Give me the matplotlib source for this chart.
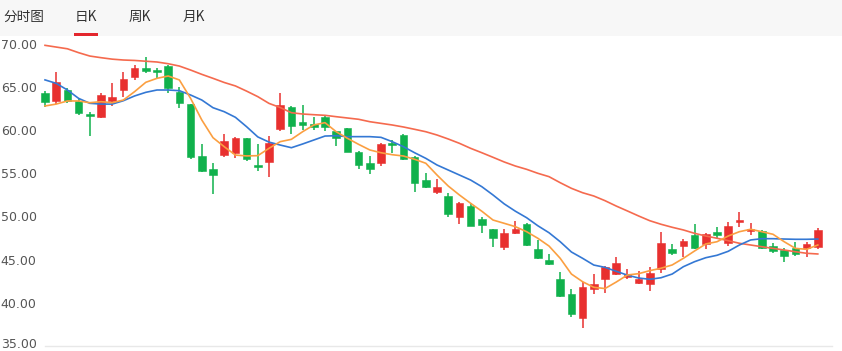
import matplotlib
matplotlib.use("Agg")
import matplotlib.pyplot as plt
from matplotlib.patches import Rectangle
import matplotlib.transforms as mtransforms

plt.rcParams['font.family'] = ['Noto Sans CJK SC', 'DejaVu Sans']

tabs = ["分时图", "日K", "周K", "月K"]
y_ticks = [35, 40, 45, 50, 55, 60, 65, 70]
y_tick_labels = ["35.00", "40.00", "45.00", "50.00", "55.00", "60.00", "65.00", "70.00"]

opens = [64.25, 63.39, 64.63, 63.36, 61.82, 61.47, 63.36, 64.63, 66.10, 67.21,
         66.90, 67.41, 64.36, 62.97, 57.03, 55.45, 57.11, 57.37, 59.04, 55.95,
         56.33, 60.12, 62.70, 60.89, 60.69, 61.54, 59.88, 60.27, 57.42, 56.22,
         56.15, 58.46, 59.42, 56.91, 54.21, 52.79, 52.36, 49.97, 51.20, 49.70,
         48.51, 46.49, 48.04, 49.12, 46.19, 44.95, 42.75, 41.02, 38.21, 41.60,
         42.72, 43.30, 43.02, 42.26, 42.18, 43.88, 46.23, 46.57, 47.85, 46.77,
         48.16, 46.96, 49.39, 48.35, 48.35, 46.57, 46.11, 46.30, 46.30, 46.42]
highs = [64.51, 66.68, 64.83, 63.74, 62.05, 64.32, 65.47, 66.76, 67.52, 68.41,
         67.14, 67.52, 65.01, 62.97, 58.38, 56.22, 59.54, 59.23, 59.11, 58.34,
         59.34, 64.25, 62.78, 62.89, 61.47, 61.74, 59.88, 60.27, 57.57, 57.00,
         58.53, 58.84, 59.54, 57.00, 55.06, 54.29, 52.67, 51.70, 51.52, 49.90,
         48.51, 48.51, 49.50, 49.27, 47.27, 45.65, 43.53, 41.56, 42.37, 43.33,
         44.26, 45.34, 43.88, 43.72, 44.10, 48.23, 46.81, 47.38, 49.12, 48.11,
         48.81, 49.32, 50.47, 49.20, 48.43, 46.96, 46.38, 47.07, 47.00, 48.62]
lows = [62.70, 63.00, 63.16, 61.74, 59.31, 61.35, 62.81, 63.86, 65.79, 66.56,
        65.98, 64.32, 62.51, 56.61, 55.17, 52.56, 56.91, 56.72, 56.45, 55.29,
        54.60, 59.88, 59.50, 60.00, 60.00, 59.92, 58.15, 57.40, 55.45, 54.87,
        55.87, 57.30, 56.53, 52.86, 53.25, 52.59, 49.97, 49.09, 48.85, 48.04,
        46.42, 46.11, 47.96, 46.61, 45.03, 44.34, 40.70, 38.39, 37.05, 41.02,
        41.17, 43.22, 42.75, 42.18, 41.37, 43.48, 45.53, 45.34, 46.23, 46.23,
        47.47, 46.61, 48.81, 47.85, 46.23, 45.73, 44.76, 45.42, 45.27, 46.19]
closes = [63.28, 65.52, 63.39, 62.00, 61.59, 64.05, 63.82, 65.87, 67.14, 66.86,
          66.67, 64.90, 63.09, 56.91, 55.29, 54.79, 58.73, 59.04, 56.64, 55.75,
          58.46, 62.89, 60.50, 60.58, 60.31, 60.38, 59.11, 57.49, 55.98, 55.49,
          58.38, 58.26, 56.64, 53.90, 53.44, 53.37, 50.28, 51.59, 48.92, 49.04,
          47.47, 48.11, 48.51, 46.69, 45.15, 44.49, 40.79, 38.67, 41.79, 42.14,
          44.18, 44.57, 43.33, 42.75, 43.48, 46.89, 45.80, 47.15, 46.38, 47.96,
          47.85, 48.89, 49.58, 48.51, 46.38, 46.00, 45.45, 45.61, 46.81, 48.43]

ma5 = [62.78, 63.00, 63.36, 63.36, 63.16, 63.28, 63.16, 63.47, 64.44, 65.52,
       65.98, 66.25, 65.79, 63.66, 61.16, 59.11, 58.07, 57.10, 57.00, 57.03,
       57.88, 58.65, 58.92, 59.80, 60.58, 60.85, 59.80, 59.04, 58.34, 57.69,
       57.37, 57.14, 56.99, 56.61, 56.15, 54.79, 53.52, 52.48, 51.52, 50.60,
       49.58, 49.20, 48.81, 48.23, 47.47, 46.57, 45.15, 43.33, 42.44, 41.79,
       41.65, 42.40, 43.22, 43.37, 43.72, 44.00, 44.38, 45.15, 46.00, 46.81,
       47.07, 47.73, 48.23, 48.51, 48.23, 47.93, 47.07, 46.30, 46.19, 46.69]
ma10 = [65.80, 65.40, 64.63, 63.66, 63.09, 63.00, 63.00, 63.39, 63.94, 64.36,
        64.63, 64.63, 64.55, 64.05, 63.47, 62.58, 62.12, 61.47, 60.38, 59.20,
        58.60, 58.26, 57.95, 58.38, 58.84, 59.30, 59.34, 59.23, 59.23, 59.23,
        59.15, 58.65, 58.07, 57.37, 56.72, 55.95, 55.37, 54.79, 54.21, 53.44,
        52.48, 51.45, 50.60, 49.85, 48.92, 48.11, 47.07, 45.88, 45.15, 44.37,
        44.10, 43.65, 43.20, 42.87, 42.72, 42.90, 43.33, 44.18, 44.76, 45.22,
        45.50, 45.96, 46.69, 47.27, 47.42, 47.42, 47.38, 47.35, 47.35, 47.38]
ma30 = [69.80, 69.60, 69.40, 68.95, 68.56, 68.37, 68.20, 68.10, 68.05, 67.96,
        67.87, 67.67, 67.40, 66.94, 66.44, 65.98, 65.50, 65.10, 64.50, 63.86,
        63.08, 62.60, 62.00, 61.85, 61.77, 61.70, 61.54, 61.39, 61.24, 60.96,
        60.77, 60.58, 60.35, 60.08, 59.80, 59.42, 58.96, 58.46, 57.88, 57.37,
        56.84, 56.30, 55.83, 55.45, 54.99, 54.60, 53.90, 53.25, 52.74, 52.36,
        51.82, 51.20, 50.63, 50.05, 49.50, 49.09, 48.74, 48.43, 48.04, 47.73,
        47.47, 47.19, 46.89, 46.69, 46.49, 46.30, 46.11, 45.91, 45.73, 45.65]

W, H = 842, 351
fig = plt.figure(figsize=(W / 100, H / 100), dpi=100)
fig.patch.set_facecolor('white')

# header band
fig.patches.append(Rectangle((0, 1 - 36 / H), 1, 36 / H, transform=fig.transFigure,
                             facecolor='#f7f7f7', edgecolor='none', zorder=0))
tab_x = [3, 75, 129, 183]
for t, x in zip(tabs, tab_x):
    fig.text(x / W, 1 - 17 / H, t, fontsize=9.8, color='#333333',
             ha='left', va='center')
fig.patches.append(Rectangle((74 / W, 1 - 36 / H), 24 / W, 2.5 / H,
                             transform=fig.transFigure, facecolor='#e3262d',
                             edgecolor='none', zorder=3))

ax_left, ax_right, ax_top, ax_bottom = 38, 832, 36, 351
ax = fig.add_axes([ax_left / W, 1 - ax_bottom / H, (ax_right - ax_left) / W,
                   (ax_bottom - ax_top) / H])
ax.set_facecolor('none')

step = 11.2
x0 = 45
ax.set_xlim((ax_left - x0) / step, (ax_right - x0) / step)
ppu = 43.2 / 5
ax.set_ylim(35 - (ax_bottom - 346) / ppu, 35 + (346 - ax_top) / ppu)

red = '#e8302f'
green = '#10b14c'
n = len(opens)
xs = list(range(n))
for i in range(n):
    o, h, l, c = opens[i], highs[i], lows[i], closes[i]
    col = red if c >= o else green
    ax.vlines(i, l, h, color=col, linewidth=1.1, zorder=3)
    bottom = min(o, c)
    height = max(abs(c - o), 0.14)
    ax.bar(i, height, bottom=bottom, width=0.68, color=col, edgecolor=col,
           linewidth=0.4, zorder=4)

ax.plot(xs, ma30, color='#f56a4e', linewidth=1.2, zorder=5)
ax.plot(xs, ma10, color='#3478d4', linewidth=1.2, zorder=5)
ax.plot(xs, ma5, color='#fb9f41', linewidth=1.2, zorder=5)

ax.plot([0, (ax_right - x0) / step], [35, 35], color='#e8e8e8',
        linewidth=1.0, zorder=1, clip_on=False)

for s in ax.spines.values():
    s.set_visible(False)
ax.set_xticks([])
ax.set_yticks(y_ticks)
ax.set_yticklabels(y_tick_labels, fontsize=9, color='#555555',
                   family=['DejaVu Sans'])
ax.tick_params(axis='y', length=0, pad=1)
# nudge the bottom label up so it stays inside the figure
lbl0 = ax.get_yticklabels()[0]
lbl0.set_transform(lbl0.get_transform() +
                   mtransforms.ScaledTranslation(0, 3 / 100, fig.dpi_scale_trans))

fig.savefig('out.png', dpi=100)
